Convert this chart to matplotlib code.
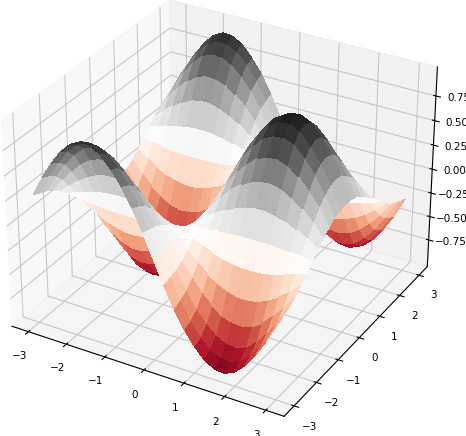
import matplotlib
matplotlib.use("Agg")
import matplotlib.pyplot as plt
import numpy as np

x_values = [-3.0, -2.75, -2.5, -2.25, -2.0, -1.75, -1.5, -1.25, -1.0, -0.75, -0.5, -0.25, 0.0,
            0.25, 0.5, 0.75, 1.0, 1.25, 1.5, 1.75, 2.0, 2.25, 2.5, 2.75, 3.0]
y_values = [-3.0, -2.75, -2.5, -2.25, -2.0, -1.75, -1.5, -1.25, -1.0, -0.75, -0.5, -0.25, 0.0,
            0.25, 0.5, 0.75, 1.0, 1.25, 1.5, 1.75, 2.0, 2.25, 2.5, 2.75, 3.0]

# heights, one row per y value
z_rows = [
    [.28, .48, .65, .79, .89, .94, .93, .87, .76, .62, .44, .23, 0, -.23, -.44, -.62, -.76, -.87, -.93, -.94, -.89, -.79, -.65, -.48, -.28],
    [.25, .45, .61, .75, .84, .89, .88, .83, .73, .59, .41, .21, 0, -.21, -.41, -.59, -.73, -.83, -.88, -.89, -.84, -.75, -.61, -.45, -.25],
    [.22, .40, .55, .67, .76, .80, .79, .74, .65, .53, .37, .19, 0, -.19, -.37, -.53, -.65, -.74, -.79, -.80, -.76, -.67, -.55, -.40, -.22],
    [.18, .32, .43, .53, .60, .63, .62, .59, .51, .42, .29, .15, 0, -.15, -.29, -.42, -.51, -.59, -.62, -.63, -.60, -.53, -.43, -.32, -.18],
    [.12, .21, .29, .35, .40, .42, .42, .39, .34, .28, .19, .10, 0, -.10, -.19, -.28, -.34, -.39, -.42, -.42, -.40, -.35, -.29, -.21, -.12],
    [.05, .09, .12, .15, .17, .18, .18, .17, .15, .12, .08, .04, 0, -.04, -.08, -.12, -.15, -.17, -.18, -.18, -.17, -.15, -.12, -.09, -.05],
    [-.02, -.04, -.05, -.06, -.07, -.07, -.07, -.07, -.06, -.05, -.03, -.02, 0, .02, .03, .05, .06, .07, .07, .07, .07, .06, .05, .04, .02],
    [-.09, -.16, -.22, -.27, -.30, -.32, -.32, -.30, -.26, -.21, -.15, -.08, 0, .08, .15, .21, .26, .30, .32, .32, .30, .27, .22, .16, .09],
    [-.15, -.27, -.37, -.45, -.51, -.54, -.53, -.50, -.44, -.36, -.25, -.13, 0, .13, .25, .36, .44, .50, .53, .54, .51, .45, .37, .27, .15],
    [-.20, -.37, -.50, -.61, -.69, -.73, -.72, -.68, -.59, -.48, -.34, -.18, 0, .18, .34, .48, .59, .68, .72, .73, .69, .61, .50, .37, .20],
    [-.25, -.44, -.61, -.74, -.84, -.88, -.87, -.82, -.71, -.58, -.40, -.21, 0, .21, .40, .58, .71, .82, .87, .88, .84, .74, .61, .44, .25],
    [-.27, -.49, -.67, -.81, -.92, -.97, -.96, -.90, -.79, -.64, -.45, -.23, 0, .23, .45, .64, .79, .90, .96, .97, .92, .81, .67, .49, .27],
    [-.28, -.50, -.69, -.84, -.95, -1.0, -.99, -.93, -.81, -.66, -.46, -.24, 0, .24, .46, .66, .81, .93, .99, 1.0, .95, .84, .69, .50, .28],
    [-.27, -.49, -.67, -.81, -.92, -.97, -.96, -.90, -.79, -.64, -.45, -.23, 0, .23, .45, .64, .79, .90, .96, .97, .92, .81, .67, .49, .27],
    [-.25, -.44, -.61, -.74, -.84, -.88, -.87, -.82, -.71, -.58, -.40, -.21, 0, .21, .40, .58, .71, .82, .87, .88, .84, .74, .61, .44, .25],
    [-.20, -.37, -.50, -.61, -.69, -.73, -.72, -.68, -.59, -.48, -.34, -.18, 0, .18, .34, .48, .59, .68, .72, .73, .69, .61, .50, .37, .20],
    [-.15, -.27, -.37, -.45, -.51, -.54, -.53, -.50, -.44, -.36, -.25, -.13, 0, .13, .25, .36, .44, .50, .53, .54, .51, .45, .37, .27, .15],
    [-.09, -.16, -.22, -.27, -.30, -.32, -.32, -.30, -.26, -.21, -.15, -.08, 0, .08, .15, .21, .26, .30, .32, .32, .30, .27, .22, .16, .09],
    [-.02, -.04, -.05, -.06, -.07, -.07, -.07, -.07, -.06, -.05, -.03, -.02, 0, .02, .03, .05, .06, .07, .07, .07, .07, .06, .05, .04, .02],
    [.05, .09, .12, .15, .17, .18, .18, .17, .15, .12, .08, .04, 0, -.04, -.08, -.12, -.15, -.17, -.18, -.18, -.17, -.15, -.12, -.09, -.05],
    [.12, .21, .29, .35, .40, .42, .42, .39, .34, .28, .19, .10, 0, -.10, -.19, -.28, -.34, -.39, -.42, -.42, -.40, -.35, -.29, -.21, -.12],
    [.18, .32, .43, .53, .60, .63, .62, .59, .51, .42, .29, .15, 0, -.15, -.29, -.42, -.51, -.59, -.62, -.63, -.60, -.53, -.43, -.32, -.18],
    [.22, .40, .55, .67, .76, .80, .79, .74, .65, .53, .37, .19, 0, -.19, -.37, -.53, -.65, -.74, -.79, -.80, -.76, -.67, -.55, -.40, -.22],
    [.25, .45, .61, .75, .84, .89, .88, .83, .73, .59, .41, .21, 0, -.21, -.41, -.59, -.73, -.83, -.88, -.89, -.84, -.75, -.61, -.45, -.25],
    [.28, .48, .65, .79, .89, .94, .93, .87, .76, .62, .44, .23, 0, -.23, -.44, -.62, -.76, -.87, -.93, -.94, -.89, -.79, -.65, -.48, -.28],
]
x_ticks = [-3, -2, -1, 0, 1, 2, 3]
y_ticks = [-3, -2, -1, 0, 1, 2, 3]
z_ticks = [-0.75, -0.5, -0.25, 0.0, 0.25, 0.5, 0.75]


def main():
    plt.rcParams["grid.color"] = "#c8c8c8"
    fig = plt.figure(figsize=(4.66, 4.36), dpi=100)
    ax = fig.add_axes([-15 / 466, 15 / 436, 1, 1], projection="3d")
    ax.set_box_aspect((4, 4, 3), zoom=1.11)

    X, Y = np.meshgrid(x_values, y_values)
    Z = np.array(z_rows)
    ax.plot_surface(X, Y, Z, rstride=1, cstride=1, cmap="RdGy",
                    vmin=-1.0, vmax=1.0, linewidth=0, antialiased=False)

    ax.set_xticks(x_ticks)
    ax.set_yticks(y_ticks)
    ax.set_zticks(z_ticks)
    ax.tick_params(labelsize=7.5, pad=1)
    ax.set_zlim(-1.04, 1.04)
    fig.savefig("out.png", dpi=100)


if __name__ == "__main__":
    main()
